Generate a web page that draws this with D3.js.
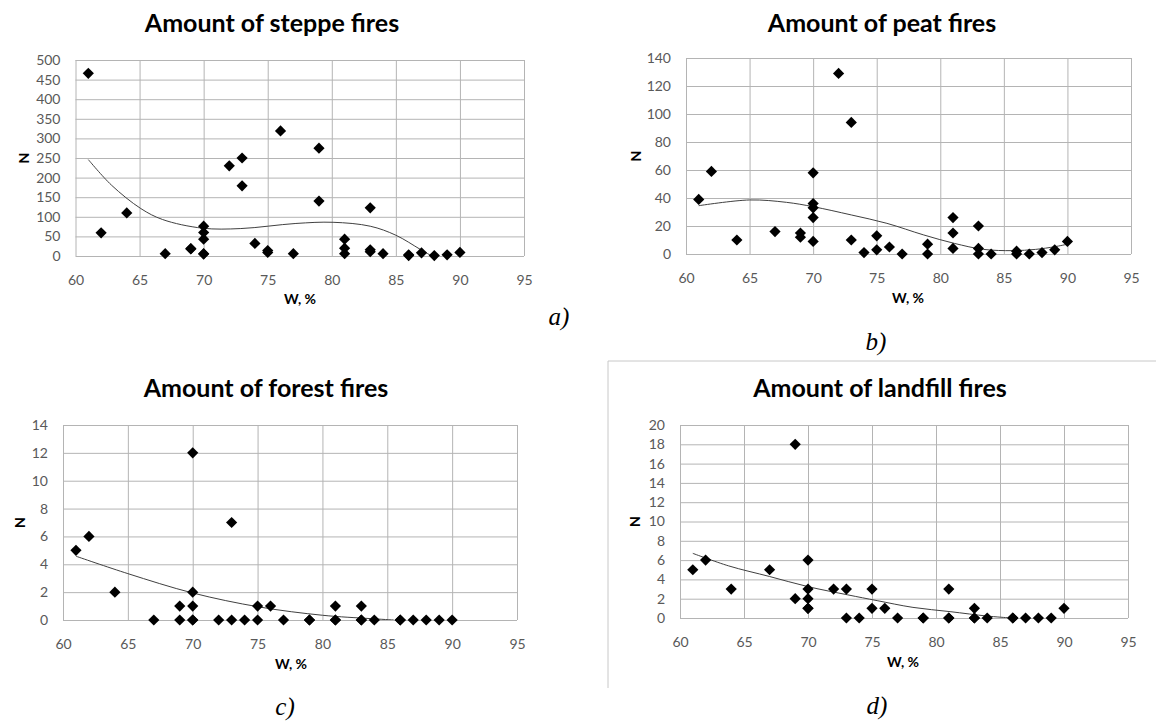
<!DOCTYPE html>
<html>
<head>
<meta charset="utf-8">
<script src="https://cdn.jsdelivr.net/npm/d3@7"></script>
<style>
  body { margin: 0; background: #fff; }
  svg text { font-family: Lato, "Open Sans", sans-serif; }
</style>
</head>
<body>
<div id="container"></div>
<script>
var w = 1164;
var h = 724;

// humidity W, % (same stations for all four charts)
var wPct = [61,62,64,67,69,69,70,70,70,70,70,72,73,73,74,75,75,76,77,79,79,81,81,81,83,83,83,84,86,86,87,88,89,90];

var steppeN   = [466,59,110,6,19,18,76,60,43,6,5,230,250,179,32,14,9,319,6,275,140,43,20,6,123,16,11,6,1,3,8,1,3,9];
var peatN     = [39,59,10,16,15,12,58,36,33,26,9,129,94,10,1,13,3,5,0,7,0,26,15,4,20,4,0,0,2,0,0,1,3,9];
var forestN   = [5,6,2,0,1,0,12,2,1,0,0,0,7,0,0,1,0,1,0,0,0,1,0,0,1,0,0,0,0,0,0,0,0,0];
var landfillN = [5,6,3,5,18,2,6,3,2,1,1,3,3,0,0,3,1,1,0,0,0,3,0,0,1,0,0,0,0,0,0,0,0,1];

// trend lines
var steppeTrendW = [61,62.8,65.1,66.8,69.9,72.9,77.2,80.1,83,85,86.9,87.8];
var steppeTrendN = [246,181,121,93,71,70,83,86,76,53,17,0];
var peatTrendW = [61,65,67.9,70,73,75.8,78.7,81.1,83.4,85.7,87.5,89,90];
var peatTrendN = [34.5,38.6,36.9,33.8,27.9,21.9,13.6,7.6,3.3,2.4,3.3,5.2,7];
var forestTrendW = [61,65,70,75.1,80,83.7,85.5];
var forestTrendN = [4.58,3.33,1.94,0.94,0.34,0.1,0];
var landfillTrendW = [61,63.8,67,70,73.1,75.4,78.2,81.1,84,85.6];
var landfillTrendN = [6.7,5.4,4.3,3.25,2.4,1.8,1.1,0.66,0.2,0.03];

var xTicks = [60,65,70,75,80,85,90,95];
var steppeTicks = [0,50,100,150,200,250,300,350,400,450,500];
var peatTicks = [0,20,40,60,80,100,120,140];
var forestTicks = [0,2,4,6,8,10,12,14];
var landfillTicks = [0,2,4,6,8,10,12,14,16,18,20];

var titles = ["Amount of steppe fires","Amount of peat fires","Amount of forest fires","Amount of landfill fires"];
var letters = ["a)","b)","c)","d)"];

var svg = d3.select("div#container").append("svg")
  .attr("width", w).attr("height", h);

// frame round panel d
svg.append("path")
  .attr("d", "M608,688V361H1156")
  .attr("fill", "none")
  .attr("stroke", "#c8c8c8")
  .attr("stroke-width", 1);

var panels = [
  {ys: steppeN, tw: steppeTrendW, tn: steppeTrendN, ticks: steppeTicks, l: 75.5, r: 524, t: 60, b: 256, tx: 272, ty: 32, nx: 24, wx: 300, wy: 304, lx: 559, ly: 325},
  {ys: peatN, tw: peatTrendW, tn: peatTrendN, ticks: peatTicks, l: 686, r: 1131, t: 58, b: 254, tx: 882, ty: 32, nx: 636, wx: 908, wy: 303, lx: 876, ly: 350},
  {ys: forestN, tw: forestTrendW, tn: forestTrendN, ticks: forestTicks, l: 63, r: 517, t: 425, b: 620, tx: 266, ty: 397, nx: 20, wx: 291, wy: 669, lx: 285, ly: 715},
  {ys: landfillN, tw: landfillTrendW, tn: landfillTrendN, ticks: landfillTicks, l: 680, r: 1128, t: 425, b: 618, tx: 880, ty: 397, nx: 635, wx: 903, wy: 667, lx: 877, ly: 714}
];

var diamond = d3.symbol().type(d3.symbolDiamond2).size(80);

panels.forEach(function(p, i) {
  var x = d3.scaleLinear().domain([60, 95]).range([p.l, p.r]);
  var y = d3.scaleLinear().domain([0, d3.max(p.ticks)]).range([p.b, p.t]);
  var g = svg.append("g");

  // grid
  g.append("g")
    .attr("transform", "translate(0," + p.b + ")")
    .call(d3.axisBottom(x).tickValues(xTicks).tickSize(-(p.b - p.t)).tickFormat(""))
    .call(function(s) { s.select(".domain").remove(); s.selectAll("line").attr("stroke", "#b4b4b4"); });
  g.append("g")
    .attr("transform", "translate(" + p.l + ",0)")
    .call(d3.axisLeft(y).tickValues(p.ticks).tickSize(-(p.r - p.l)).tickFormat(""))
    .call(function(s) { s.select(".domain").remove(); s.selectAll("line").attr("stroke", "#b4b4b4"); });

  // tick labels
  g.append("g")
    .attr("transform", "translate(0," + p.b + ")")
    .call(d3.axisBottom(x).tickValues(xTicks).tickSize(0).tickPadding(19))
    .call(function(s) {
      s.select(".domain").remove();
      s.selectAll("text").attr("fill", "#595959").style("font-size", "14px").style("font-family", "Lato");
    });
  g.append("g")
    .attr("transform", "translate(" + p.l + ",0)")
    .call(d3.axisLeft(y).tickValues(p.ticks).tickSize(0).tickPadding(15))
    .call(function(s) {
      s.select(".domain").remove();
      s.selectAll("text").attr("fill", "#595959").style("font-size", "14px").style("font-family", "Lato");
    });

  // trend
  var clipId = "clip" + i;
  svg.append("clipPath").attr("id", clipId)
    .append("rect").attr("x", p.l).attr("y", p.t).attr("width", p.r - p.l).attr("height", p.b - p.t);
  var line = d3.line()
    .x(function(d) { return x(d[0]); })
    .y(function(d) { return y(d[1]); })
    .curve(d3.curveCatmullRom);
  g.append("path")
    .datum(d3.zip(p.tw, p.tn))
    .attr("clip-path", "url(#" + clipId + ")")
    .attr("d", line)
    .attr("fill", "none")
    .attr("stroke", "#404040")
    .attr("stroke-width", 1);

  // points
  g.selectAll("path.pt")
    .data(d3.zip(wPct, p.ys))
    .enter().append("path")
    .attr("class", "pt")
    .attr("d", diamond)
    .attr("transform", function(d) { return "translate(" + x(d[0]) + "," + y(d[1]) + ")"; })
    .attr("fill", "#000");

  // texts
  g.append("text")
    .attr("x", p.tx).attr("y", p.ty)
    .attr("text-anchor", "middle")
    .style("font-size", "25px").style("font-weight", "bold")
    .text(titles[i]);
  g.append("text")
    .attr("transform", "translate(" + (p.nx + 5) + "," + ((p.t + p.b) / 2) + ") rotate(-90)")
    .attr("text-anchor", "middle")
    .style("font-size", "14px").style("font-weight", "bold")
    .text("N");
  g.append("text")
    .attr("x", p.wx).attr("y", p.wy)
    .attr("text-anchor", "middle")
    .style("font-size", "14px").style("font-weight", "bold")
    .text("W, %");
  g.append("text")
    .attr("x", p.lx).attr("y", p.ly)
    .attr("text-anchor", "middle")
    .style("font-family", "'Liberation Serif', serif")
    .style("font-style", "italic")
    .style("font-size", "25px")
    .text(letters[i]);
});
</script>
</body>
</html>
